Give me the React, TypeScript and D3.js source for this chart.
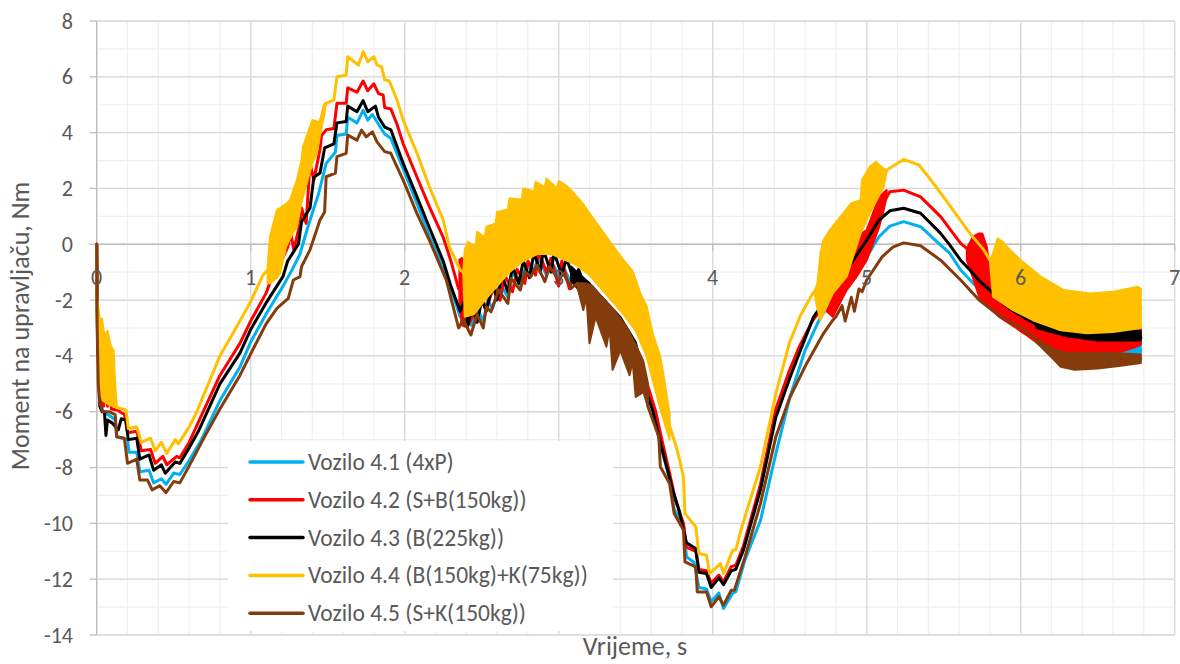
import React from 'react';
import * as d3 from 'd3';

type P = [number, number];
type Band = { hi: P[]; lo: P[] };

const seriesNames = [
  'Vozilo 4.1 (4xP)',
  'Vozilo 4.2 (S+B(150kg))',
  'Vozilo 4.3 (B(225kg))',
  'Vozilo 4.4 (B(150kg)+K(75kg))',
  'Vozilo 4.5 (S+K(150kg))',
];
const seriesColors = ['#00B0F0', '#FF0000', '#000000', '#FFC000', '#843C0C'];

const xTickLabels = [0, 1, 2, 3, 4, 5, 6, 7];
const yTickLabels = [8, 6, 4, 2, 0, -2, -4, -6, -8, -10, -12, -14];
const xTitle = 'Vrijeme, s';
const yTitle = 'Moment na upravljaču, Nm';

// ---- Vozilo 4.1 (blue)
const blueLine: P[] = [
  [0, 0], [0.005, -3.0], [0.02, -5.6], [0.04, -6.0], [0.1, -6.2], [0.12, -6.3], [0.13, -6.9], [0.2, -7.0],
  [0.21, -7.45], [0.26, -7.45], [0.28, -8.15], [0.34, -8.1], [0.37, -8.55], [0.42, -8.4], [0.45, -8.6],
  [0.5, -8.2], [0.54, -8.25], [0.6, -7.75], [0.68, -7.0], [0.8, -5.6], [0.93, -4.4], [1.0, -3.5], [1.1, -2.5],
  [1.21, -1.5], [1.27, -0.9], [1.32, -0.35], [1.37, 0.6], [1.44, 1.8], [1.49, 2.9], [1.55, 3.3], [1.56, 3.9],
  [1.62, 3.95], [1.63, 4.55], [1.69, 4.35], [1.73, 4.8], [1.76, 4.45], [1.79, 4.65], [1.83, 4.3], [1.87, 3.95],
  [1.91, 3.8], [1.95, 3.25], [1.99, 2.7], [2.08, 1.45], [2.16, 0.3], [2.25, -0.8], [2.3, -1.6], [2.36, -2.6],
  [2.4, -2.4], [2.43, -2.9], [2.47, -2.3], [2.51, -2.75], [2.54, -2.0], [2.57, -2.3], [2.62, -1.4], [2.67, -1.9],
  [2.7, -1.0], [2.75, -1.45], [2.79, -0.7], [2.83, -1.0], [2.87, -0.5], [2.92, -1.1], [2.95, -0.6], [3.0, -1.1],
  [3.03, -0.8], [3.08, -1.4], [3.12, -1.2], [3.18, -1.9], [3.25, -2.2], [3.3, -2.5], [3.4, -3.1], [3.5, -3.9],
  [3.55, -4.9], [3.61, -5.9], [3.66, -7.2], [3.72, -8.4], [3.75, -9.5], [3.81, -10.0], [3.83, -11.2],
  [3.88, -11.4], [3.91, -12.3], [3.96, -12.35], [3.99, -12.8], [4.04, -12.5], [4.07, -13.05], [4.13, -12.5],
  [4.15, -12.45], [4.21, -11.3], [4.31, -9.9], [4.41, -7.5], [4.5, -5.5], [4.6, -3.8], [4.7, -2.6], [4.87, -1.4],
  [5.0, -0.45], [5.08, 0.27], [5.15, 0.65], [5.24, 0.81], [5.35, 0.63], [5.48, -0.03], [5.54, -0.33],
  [5.61, -0.92], [5.71, -1.5], [5.86, -2.3], [6.0, -2.9], [6.1, -3.3], [6.2, -3.6], [6.35, -3.75], [6.5, -3.85],
  [6.65, -3.85], [6.78, -3.8],
];
const blueBands: Band[] = [
  {
    hi: [[6.15, -3.4], [6.4, -3.5], [6.6, -3.5], [6.78, -3.45]],
    lo: [[6.15, -3.5], [6.3, -3.8], [6.45, -4.0], [6.6, -4.0], [6.78, -3.95]],
  },
];

// ---- Vozilo 4.2 (red)
const redLine: P[] = [
  [0, 0], [0.005, -3.0], [0.02, -5.5], [0.03, -5.9], [0.04, -3.15], [0.045, -5.8], [0.06, -3.55], [0.07, -5.8],
  [0.085, -4.1], [0.095, -5.9], [0.14, -5.95], [0.15, -6.0], [0.18, -6.1], [0.2, -6.75], [0.26, -6.7],
  [0.29, -7.4], [0.35, -7.35], [0.38, -7.85], [0.43, -7.6], [0.455, -7.9], [0.52, -7.6], [0.54, -7.65],
  [0.6, -7.1], [0.65, -6.5], [0.8, -4.7], [0.93, -3.55], [1.0, -2.75], [1.1, -1.75], [1.15, -1.0], [1.2, -0.6],
  [1.24, -0.1], [1.26, 0.4], [1.28, -0.2], [1.32, 0.75], [1.33, 1.3], [1.36, 0.75], [1.385, 2.9], [1.41, 2.3],
  [1.45, 3.4], [1.46, 3.9], [1.49, 4.1], [1.54, 4.15], [1.56, 5.05], [1.62, 5.05], [1.63, 5.6], [1.69, 5.45],
  [1.73, 5.85], [1.76, 5.5], [1.8, 5.75], [1.83, 5.4], [1.86, 5.35], [1.87, 4.9], [1.91, 4.85], [1.95, 4.3],
  [1.99, 3.6], [2.08, 2.4], [2.16, 1.35], [2.25, 0.25], [2.3, -0.6], [2.35, -1.6], [2.38, -1.5], [2.41, -2.9],
  [2.45, -2.5], [2.5, -1.9], [2.53, -2.3], [2.58, -1.5], [2.62, -2.0], [2.65, -1.1], [2.7, -1.7], [2.73, -0.9],
  [2.78, -1.4], [2.8, -0.6], [2.85, -1.1], [2.87, -0.25], [2.92, -1.0], [2.95, -0.5], [3.0, -1.5], [3.02, -0.6],
  [3.07, -1.6], [3.1, -1.0], [3.15, -1.8], [3.25, -2.1], [3.35, -2.6], [3.45, -3.3], [3.52, -4.2], [3.58, -5.1],
  [3.63, -6.0], [3.67, -7.0], [3.72, -8.2], [3.76, -9.2], [3.81, -10.0], [3.83, -10.85], [3.89, -11.0],
  [3.91, -11.65], [3.96, -11.7], [3.99, -12.15], [4.04, -11.85], [4.07, -12.1], [4.12, -11.55], [4.15, -11.5],
  [4.2, -10.8], [4.31, -8.6], [4.41, -5.9], [4.5, -4.5], [4.56, -3.7], [4.65, -2.72], [4.72, -2.24],
  [4.78, -2.2], [4.87, -1.3], [4.93, -0.3], [5.0, 0.0], [5.06, 0.8], [5.11, 1.5], [5.15, 1.88], [5.24, 1.94],
  [5.35, 1.7], [5.48, 0.99], [5.61, 0.03], [5.65, -0.15], [5.7, -0.5], [5.8, -1.7], [5.9, -2.3], [6.0, -2.7],
  [6.15, -3.2], [6.3, -3.55], [6.5, -3.6], [6.65, -3.5], [6.78, -3.35],
];
const redBands: Band[] = [
  {
    hi: [[2.355, -0.55], [2.37, -0.5], [2.41, -0.6]],
    lo: [[2.355, -2.0], [2.37, -2.9], [2.41, -3.0]],
  },
  {
    hi: [[4.74, -2.1], [4.78, -1.88], [4.87, -0.92], [4.93, 0.27], [5.0, 0.51], [5.04, 1.11], [5.08, 1.7],
      [5.11, 1.85], [5.13, 1.94]],
    lo: [[4.74, -2.4], [4.78, -2.6], [4.87, -1.64], [4.93, -1.2], [5.0, -0.57], [5.04, 0.0], [5.08, 0.6],
      [5.11, 1.23], [5.13, 1.7]],
  },
  {
    hi: [[5.65, -0.15], [5.69, 0.27], [5.73, 0.39], [5.75, 0.39], [5.78, -0.09], [5.81, -1.4], [5.86, -1.7],
      [5.97, -2.18], [6.02, -2.35], [6.15, -2.72], [6.32, -3.08], [6.52, -3.25], [6.62, -3.15], [6.75, -3.02],
      [6.78, -3.0]],
    lo: [[5.65, -0.57], [5.69, -1.2], [5.73, -1.88], [5.78, -2.2], [5.86, -2.6], [5.97, -3.0], [6.02, -3.19],
      [6.17, -3.79], [6.32, -4.15], [6.47, -4.15], [6.62, -3.91], [6.75, -3.67], [6.78, -3.6]],
  },
];

// ---- Vozilo 4.3 (black)
const blackLine: P[] = [
  [0, 0], [0.005, -3.0], [0.02, -5.8], [0.035, -6.0], [0.05, -6.0], [0.06, -6.85], [0.07, -6.3], [0.1, -6.4],
  [0.14, -6.65], [0.16, -6.25], [0.19, -6.3], [0.205, -7.0], [0.26, -6.95], [0.28, -7.7], [0.34, -7.55],
  [0.37, -8.1], [0.42, -7.9], [0.445, -8.2], [0.51, -7.8], [0.54, -7.85], [0.6, -7.3], [0.66, -6.7], [0.8, -5.0],
  [0.93, -3.9], [1.0, -3.05], [1.1, -2.1], [1.21, -1.15], [1.24, -0.6], [1.31, 0.0], [1.33, 0.8], [1.385, 1.3],
  [1.41, 2.4], [1.45, 2.55], [1.48, 3.45], [1.54, 3.6], [1.56, 4.35], [1.62, 4.4], [1.63, 4.95], [1.69, 4.75],
  [1.73, 5.15], [1.76, 4.75], [1.81, 4.95], [1.83, 4.55], [1.87, 4.2], [1.91, 4.1], [1.95, 3.5], [1.99, 2.9],
  [2.08, 1.7], [2.16, 0.6], [2.25, -0.6], [2.3, -1.5], [2.36, -2.4], [2.39, -2.0], [2.41, -2.9], [2.44, -2.2],
  [2.47, -2.8], [2.5, -2.0], [2.53, -2.4], [2.57, -1.4], [2.6, -2.0], [2.63, -1.1], [2.67, -1.7], [2.7, -0.8],
  [2.74, -1.4], [2.77, -0.6], [2.81, -1.2], [2.84, -0.3], [2.88, -1.0], [2.9, -0.2], [2.95, -1.0], [2.97, -0.3],
  [3.02, -1.1], [3.05, -0.5], [3.1, -1.3], [3.13, -0.9], [3.18, -1.7], [3.27, -2.0], [3.35, -2.5], [3.44, -3.2],
  [3.5, -3.9], [3.55, -5.0], [3.61, -5.95], [3.66, -7.1], [3.74, -8.8], [3.78, -9.5], [3.83, -10.7],
  [3.89, -10.9], [3.91, -11.75], [3.96, -11.8], [3.99, -12.3], [4.04, -11.95], [4.07, -12.2], [4.12, -11.7],
  [4.15, -11.65], [4.2, -10.95], [4.31, -8.8], [4.41, -6.2], [4.5, -4.8], [4.57, -3.8], [4.655, -2.6],
  [4.87, -0.92], [5.0, 0.15], [5.08, 0.87], [5.15, 1.2], [5.24, 1.29], [5.35, 1.11], [5.48, 0.39], [5.54, -0.03],
  [5.61, -0.57], [5.67, -0.92], [5.73, -1.3], [5.8, -1.64], [5.86, -2.0], [5.93, -2.3], [6.0, -2.55],
  [6.06, -2.75], [6.19, -3.1], [6.35, -3.25], [6.5, -3.3], [6.65, -3.35], [6.78, -3.35],
];
const blackBands: Band[] = [
  {
    hi: [[3.08, -0.8], [3.2, -1.4], [3.3, -2.0], [3.4, -2.6], [3.5, -3.5], [3.55, -4.6]],
    lo: [[3.08, -1.3], [3.2, -2.1], [3.3, -2.7], [3.4, -3.4], [3.5, -4.2], [3.55, -5.0]],
  },
  {
    hi: [[6.1, -2.85], [6.3, -3.0], [6.5, -3.05], [6.78, -3.1]],
    lo: [[6.1, -3.0], [6.3, -3.3], [6.5, -3.45], [6.78, -3.45]],
  },
];

// ---- Vozilo 4.4 (yellow)
const yellowLine: P[] = [
  [0, 0], [0.003, -2.5], [0.06, -4.5], [0.13, -5.85], [0.19, -5.94], [0.205, -6.6], [0.26, -6.55], [0.29, -7.1],
  [0.35, -6.95], [0.38, -7.4], [0.42, -7.1], [0.455, -7.5], [0.51, -7.0], [0.53, -7.15], [0.6, -6.55],
  [0.65, -6.0], [0.8, -4.0], [0.93, -2.75], [1.0, -2.05], [1.08, -1.1], [1.115, -0.9], [1.2, 0.2], [1.3, 1.5],
  [1.4, 3.6], [1.48, 4.9], [1.49, 5.05], [1.54, 5.17], [1.56, 6.0], [1.62, 6.06], [1.63, 6.72], [1.67, 6.55],
  [1.7, 6.42], [1.73, 6.9], [1.76, 6.54], [1.8, 6.72], [1.82, 6.42], [1.85, 6.36], [1.87, 5.89], [1.9, 5.85],
  [1.95, 5.17], [1.99, 4.45], [2.08, 3.26], [2.16, 2.06], [2.25, 0.87], [2.29, -0.09], [2.36, -0.92],
  [2.38, -1.0], [2.5, -1.0], [2.7, 0.2], [2.9, 0.8], [3.1, 0.5], [3.3, -1.0], [3.5, -2.3], [3.66, -5.0],
  [3.72, -6.5], [3.77, -7.38], [3.81, -8.33], [3.82, -9.65], [3.89, -10.12], [3.91, -11.08], [3.96, -11.14],
  [3.98, -11.8], [4.05, -11.44], [4.07, -11.8], [4.13, -10.96], [4.15, -10.95], [4.19, -10.12], [4.31, -7.97],
  [4.41, -5.35], [4.5, -3.5], [4.57, -2.55], [4.65, -1.76], [4.7, -1.5], [4.8, -0.4], [4.9, 0.3], [4.97, 1.3],
  [5.02, 2.0], [5.06, 2.5], [5.13, 2.66], [5.24, 3.04], [5.34, 2.84], [5.45, 2.06], [5.56, 1.23], [5.67, 0.39],
  [5.76, -0.2], [5.8, -0.57], [5.85, -0.8], [6.0, -1.5], [6.15, -2.0], [6.3, -2.4], [6.5, -2.45], [6.65, -2.4],
  [6.78, -2.3],
];
const yellowBands: Band[] = [
  {
    hi: [[0.005, -2.0], [0.02, -2.7], [0.035, -2.66], [0.05, -3.3], [0.07, -3.1], [0.09, -3.6], [0.1, -3.73],
      [0.11, -3.8], [0.12, -5.0], [0.13, -5.8]],
    lo: [[0.005, -3.0], [0.02, -5.3], [0.04, -5.6], [0.08, -5.75], [0.13, -5.85]],
  },
  {
    hi: [[1.11, -0.8], [1.125, 0.27], [1.17, 1.23], [1.19, 1.3], [1.23, 1.45], [1.255, 1.58], [1.3, 2.3],
      [1.33, 3.02], [1.34, 3.5], [1.4, 4.45], [1.43, 4.4], [1.45, 4.34], [1.47, 4.9], [1.48, 5.05]],
    lo: [[1.11, -1.4], [1.125, -1.4], [1.17, -1.2], [1.19, -1.04], [1.23, -0.09], [1.255, 0.2], [1.3, 0.63],
      [1.33, 1.5], [1.34, 1.7], [1.4, 2.9], [1.43, 3.26], [1.45, 3.9], [1.47, 4.45], [1.48, 4.7]],
  },
  {
    hi: [[2.38, -1.0], [2.39, -0.2], [2.41, 0.09], [2.46, -0.1], [2.47, 0.45], [2.52, 0.25], [2.53, 0.63],
      [2.59, 0.75], [2.6, 1.16], [2.67, 1.25], [2.68, 1.64], [2.76, 1.6], [2.77, 2.0], [2.84, 1.9], [2.85, 2.24],
      [2.91, 2.05], [2.92, 2.36], [2.99, 2.0], [3.0, 2.26], [3.05, 2.1], [3.09, 1.88], [3.15, 1.5], [3.2, 1.11],
      [3.31, 0.27], [3.42, -0.57], [3.48, -0.95], [3.53, -1.76], [3.57, -2.2], [3.61, -3.19], [3.66, -4.03],
      [3.69, -5.0], [3.72, -6.06]],
    lo: [[2.38, -1.0], [2.39, -2.6], [2.45, -2.5], [2.52, -2.0], [2.6, -1.5], [2.68, -1.0], [2.77, -0.6],
      [2.86, -0.35], [2.95, -0.35], [3.02, -0.5], [3.1, -0.7], [3.2, -1.1], [3.31, -1.8], [3.42, -2.5],
      [3.5, -3.1], [3.57, -4.0], [3.66, -5.9], [3.72, -7.0]],
  },
  {
    hi: [[4.66, -1.7], [4.68, -1.4], [4.7, -0.3], [4.72, 0.15], [4.76, 0.51], [4.83, 0.99], [4.9, 1.47],
      [4.96, 1.58], [4.97, 2.3], [5.02, 2.78], [5.06, 2.96], [5.1, 2.75], [5.13, 2.66]],
    lo: [[4.66, -1.7], [4.68, -2.3], [4.7, -2.72], [4.78, -1.76], [4.87, -1.16], [4.96, 0.39], [5.02, 1.11],
      [5.11, 2.06], [5.13, 2.6]],
  },
  {
    hi: [[5.8, -0.57], [5.82, -0.33], [5.85, 0.21], [5.88, 0.1], [5.93, -0.2], [6.0, -0.57], [6.13, -1.16],
      [6.28, -1.64], [6.45, -1.76], [6.6, -1.7], [6.76, -1.52], [6.78, -1.6]],
    lo: [[5.8, -0.6], [5.82, -1.88], [5.95, -2.36], [6.08, -2.72], [6.26, -3.08], [6.43, -3.19], [6.6, -3.14],
      [6.76, -3.02], [6.78, -3.0]],
  },
];

// ---- Vozilo 4.5 (brown)
const brownLine: P[] = [
  [0, 0], [0.003, -3.0], [0.01, -5.0], [0.02, -5.7], [0.04, -6.0], [0.08, -6.0], [0.12, -6.1], [0.13, -6.9],
  [0.18, -6.95], [0.2, -7.85], [0.26, -7.7], [0.28, -8.45], [0.33, -8.45], [0.36, -8.8], [0.41, -8.65],
  [0.45, -8.9], [0.5, -8.5], [0.54, -8.55], [0.6, -7.95], [0.7, -6.9], [0.8, -5.9], [0.93, -4.7], [1.03, -3.6],
  [1.1, -2.85], [1.17, -2.3], [1.244, -1.94], [1.277, -1.28], [1.32, -1.16], [1.33, -0.8], [1.385, -0.2],
  [1.45, 0.87], [1.48, 1.16], [1.49, 2.42], [1.55, 2.55], [1.56, 3.14], [1.62, 3.26], [1.63, 3.91],
  [1.69, 3.73], [1.72, 4.09], [1.75, 3.85], [1.79, 4.03], [1.82, 3.67], [1.87, 3.32], [1.91, 3.26], [1.99, 2.3],
  [2.08, 1.1], [2.16, 0.15], [2.27, -1.28], [2.35, -3.0], [2.38, -2.7], [2.43, -3.25], [2.47, -2.5],
  [2.51, -3.0], [2.53, -2.24], [2.56, -2.42], [2.61, -1.64], [2.67, -2.12], [2.69, -1.22], [2.75, -1.64],
  [2.78, -0.98], [2.82, -1.16], [2.86, -0.75], [2.91, -1.34], [2.94, -0.8], [3.0, -1.28], [3.03, -1.04],
  [3.08, -1.58], [3.12, -1.4], [3.16, -1.9], [3.3, -2.6], [3.45, -3.8], [3.55, -4.9], [3.58, -5.82],
  [3.65, -6.9], [3.66, -7.97], [3.72, -8.57], [3.75, -9.65], [3.81, -10.24], [3.82, -11.38], [3.89, -11.56],
  [3.9, -12.46], [3.96, -12.46], [3.99, -12.99], [4.04, -12.63], [4.07, -12.93], [4.12, -12.4], [4.14, -12.4],
  [4.21, -11.2], [4.31, -9.29], [4.41, -6.9], [4.5, -5.5], [4.61, -4.27], [4.72, -3.19], [4.78, -2.72],
  [4.8, -2.6], [4.84, -2.2], [4.86, -2.75], [4.9, -1.9], [4.92, -2.4], [4.95, -1.6], [4.97, -1.7], [5.0, -1.28],
  [5.1, -0.45], [5.17, -0.1], [5.24, 0.05], [5.35, -0.05], [5.48, -0.57], [5.61, -1.28], [5.73, -2.0],
  [5.86, -2.55], [6.0, -3.0], [6.1, -3.4], [6.19, -3.7], [6.3, -4.15], [6.45, -4.2], [6.6, -4.15], [6.78, -4.1],
];
const brownBands: Band[] = [
  {
    hi: [[3.12, -1.4], [3.18, -1.4], [3.22, -1.5], [3.28, -1.9], [3.35, -2.3], [3.44, -2.96], [3.5, -3.6],
      [3.55, -4.2], [3.58, -5.0]],
    lo: [[3.12, -1.5], [3.16, -2.36], [3.18, -1.9], [3.2, -3.55], [3.24, -2.6], [3.31, -3.67], [3.33, -3.0],
      [3.35, -4.5], [3.4, -3.8], [3.46, -4.69], [3.48, -4.2], [3.5, -5.47], [3.55, -5.3], [3.58, -5.82]],
  },
  {
    hi: [[6.1, -3.4], [6.21, -3.75], [6.3, -3.9], [6.45, -3.9], [6.6, -3.9], [6.78, -3.95]],
    lo: [[6.1, -3.5], [6.21, -4.1], [6.26, -4.39], [6.35, -4.5], [6.5, -4.45], [6.65, -4.35], [6.78, -4.25]],
  },
];

const seriesLines = [blueLine, redLine, blackLine, yellowLine, brownLine];
const seriesBands = [blueBands, redBands, blackBands, yellowBands, brownBands];

const W = 1180;
const H = 664;
const FONT = 'Calibri, Carlito, Lato, sans-serif';
const TEXT = '#595959';

export default function App() {
  const x = d3.scaleLinear().domain([0, 7]).range([96.7, 1174.7]);
  const y = d3.scaleLinear().domain([-14, 8]).range([635, 21]);
  const line = d3.line<P>().x((d) => x(d[0])).y((d) => y(d[1]));

  const xMinor = x.ticks(35);
  const yMinor = y.ticks(22);
  const [x0, x1] = x.range();
  const [y0, y1] = [y(8), y(-14)];

  const legendTop = 441;
  const legendLeft = 228;
  const rowH = 37.8;

  return (
    <svg
      width={W}
      height={H}
      style={{ position: 'absolute', left: 0, top: 0, background: '#fff' }}
      fontFamily={FONT}
    >
      <rect x={0} y={0} width={W} height={H} fill="#fff" />
      {/* minor grid */}
      {xMinor.map((t) => (
        <line key={'xm' + t} x1={x(t)} x2={x(t)} y1={y0} y2={y1} stroke="#EFEFEF" strokeWidth={1.2} />
      ))}
      {yMinor.map((v) => (
        <line key={'ym' + v} x1={x0} x2={x1} y1={y(v)} y2={y(v)} stroke="#EFEFEF" strokeWidth={1.2} />
      ))}
      {/* major grid */}
      {xTickLabels.map((t) => (
        <line key={'xM' + t} x1={x(t)} x2={x(t)} y1={y0} y2={y1} stroke="#D9D9D9" strokeWidth={1.3} />
      ))}
      {yTickLabels.map((v) => (
        <line key={'yM' + v} x1={x0} x2={x1} y1={y(v)} y2={y(v)} stroke="#D9D9D9" strokeWidth={1.3} />
      ))}
      {/* axes */}
      <line x1={x(0)} x2={x(0)} y1={y0} y2={y1} stroke="#BFBFBF" strokeWidth={1.3} />
      <line x1={x0} x2={x1} y1={y(0)} y2={y(0)} stroke="#BFBFBF" strokeWidth={1.3} />
      {yTickLabels.map((v) => (
        <line key={'yt' + v} x1={x(0) - 7} x2={x(0)} y1={y(v)} y2={y(v)} stroke="#BFBFBF" strokeWidth={1.3} />
      ))}
      {xTickLabels.map((t) => (
        <line key={'xt' + t} x1={x(t)} x2={x(t)} y1={y(0)} y2={y(0) + 7} stroke="#BFBFBF" strokeWidth={1.3} />
      ))}

      {/* series */}
      {seriesLines.map((pts, i) => (
        <g key={'s' + i}>
          {seriesBands[i].map((b, j) => (
            <path
              key={j}
              d={(line([...b.hi, ...b.lo.slice().reverse()]) || '') + 'Z'}
              fill={seriesColors[i]}
              stroke={seriesColors[i]}
              strokeWidth={2}
              strokeLinejoin="round"
            />
          ))}
          <path
            d={line(pts) || ''}
            fill="none"
            stroke={seriesColors[i]}
            strokeWidth={3}
            strokeLinejoin="round"
            strokeLinecap="round"
          />
        </g>
      ))}

      {/* tick labels */}
      {xTickLabels.map((t) => (
        <text key={'xl' + t} x={x(t)} y={y(0) + 33} textAnchor="middle" dominantBaseline="central"
          fontSize={22} fill={TEXT}>
          {t}
        </text>
      ))}
      {yTickLabels.map((v) => (
        <text key={'yl' + v} x={73} y={y(v)} textAnchor="end" dominantBaseline="central" fontSize={22} fill={TEXT}>
          {v}
        </text>
      ))}

      {/* legend */}
      <rect x={legendLeft} y={legendTop} width={385} height={190} fill="#fff" />
      {seriesNames.map((n, i) => {
        const cy = legendTop + 21 + i * rowH;
        return (
          <g key={'lg' + i}>
            <line x1={250} x2={303} y1={cy} y2={cy} stroke={seriesColors[i]} strokeWidth={3.5} strokeLinecap="round" />
            <text x={308} y={cy} dominantBaseline="central" fontSize={23.5} fill={TEXT}>
              {n}
            </text>
          </g>
        );
      })}

      {/* titles */}
      <text x={635} y={646} textAnchor="middle" dominantBaseline="central" fontSize={26} fill={TEXT}>
        {xTitle}
      </text>
      <text
        transform={`translate(20, 326) rotate(-90)`}
        textAnchor="middle"
        dominantBaseline="central"
        fontSize={26}
        fill={TEXT}
      >
        {yTitle}
      </text>
    </svg>
  );
}
